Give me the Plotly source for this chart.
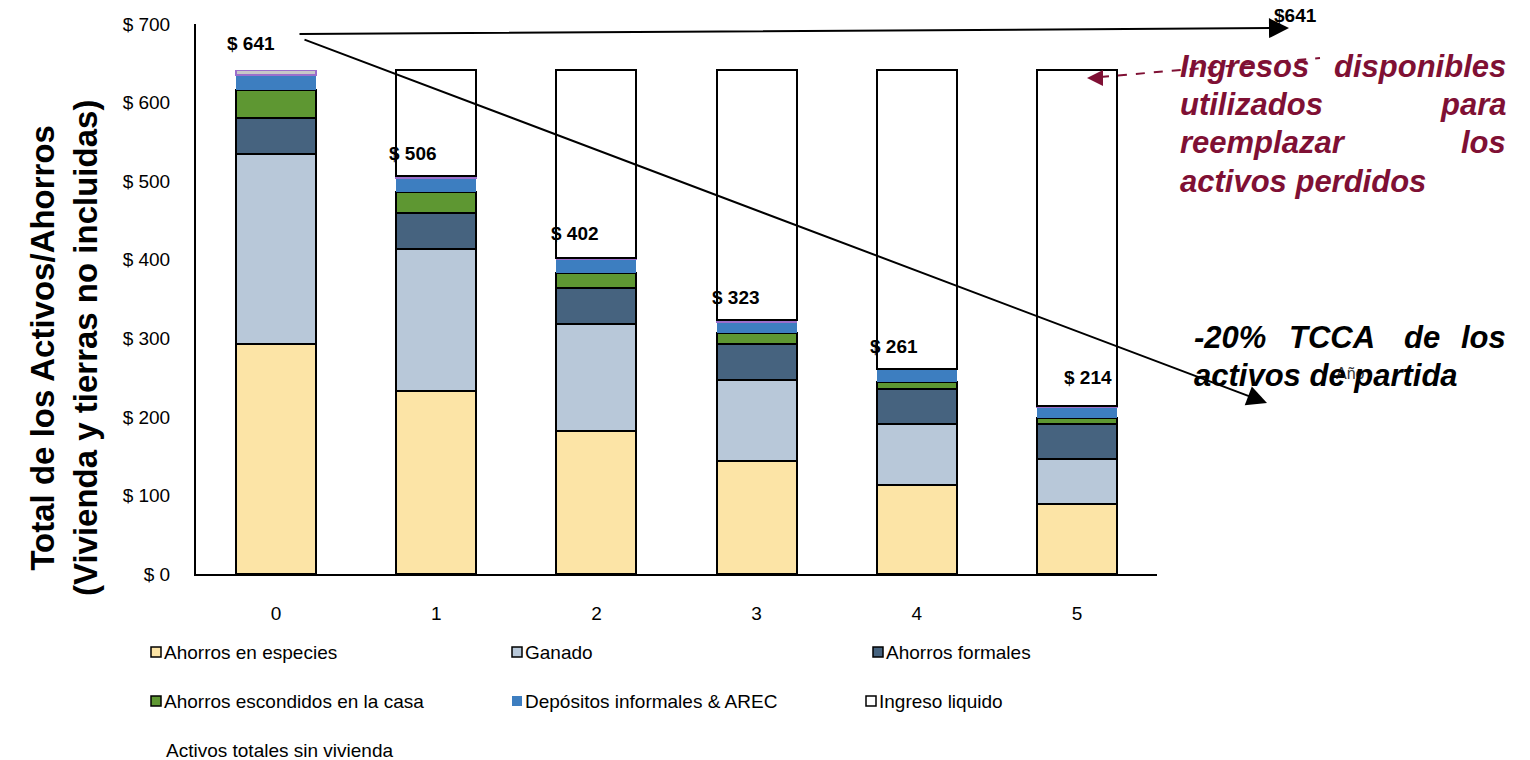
import plotly.graph_objects as go

# Year since start
years = [0, 1, 2, 3, 4, 5]

# Stacked asset components (USD)
ahorros_especies = [293, 233, 182, 144, 113, 89]
ganado = [241, 181, 136, 103, 78, 57]
ahorros_formales = [46, 45, 46, 46, 45, 45]
ahorros_escondidos = [36, 27, 19, 14, 9, 8]
depositos_informales = [19, 18, 18, 14, 15, 13]
otros_activos = [6, 2, 1, 2, 1, 2]
ingreso_liquido = [None, 135, 239, 318, 380, 427]

# Total assets excluding housing
activos_totales = [641, 506, 402, 323, 261, 214]

y_ticks = [0, 100, 200, 300, 400, 500, 600, 700]

FONT = "Arial, Liberation Sans, sans-serif"
RED = "#7F1034"

# plot area in page pixels
L, R, T, B = 196, 1157, 24, 574


def px(X):
    return (X - L) / (R - L)


def py(Y):
    return (B - Y) / (B - T)


series = [
    ("Ahorros en especies", ahorros_especies, "#FCE4A6", "black", 2),
    ("Ganado", ganado, "#B8C8D9", "black", 2),
    ("Ahorros formales", ahorros_formales, "#46637F", "black", 2),
    ("Ahorros escondidos en la casa", ahorros_escondidos, "#5E9732", "black", 2),
    ("Depósitos informales & AREC", depositos_informales, "#3D7EC0", "#3D7EC0", 0),
    ("Otros", otros_activos, "#C8C8C8", "#9B6FCB", 1.5),
    ("Ingreso liquido", ingreso_liquido, "#FFFFFF", "black", 2),
]

fig = go.Figure()
for name, vals, color, lcolor, lw in series:
    fig.add_trace(go.Bar(
        x=years, y=vals, name=name, width=0.5,
        marker=dict(color=color, line=dict(color=lcolor, width=lw)),
        showlegend=False,
    ))

annotations = []
shapes = []

# total labels above each bar
label_offsets = [(-25, 27), (-23, 23), (-21, 25), (-21, 23), (-23, 22), (11, 28)]
for yr, tot, (dx, dy) in zip(years, activos_totales, label_offsets):
    annotations.append(dict(
        x=yr, y=tot, xref="x", yref="y", text=f"$ {tot}", showarrow=False,
        xshift=dx, yshift=dy, font=dict(family=FONT, size=19, color="black", weight="bold"),
    ))

# y-axis title
annotations.append(dict(
    x=px(64), y=py(348), xref="paper", yref="paper", textangle=-90,
    text="Total de los Activos/Ahorros<br>(Vivienda y tierras no incluidas)",
    showarrow=False, xanchor="center", yanchor="middle",
    font=dict(family=FONT, size=33, color="black", weight="bold"),
))

# reference arrows from the starting total
annotations.append(dict(
    x=px(1289), y=py(28), xref="paper", yref="paper", ax=-991, ay=6,
    showarrow=True, arrowhead=2, arrowsize=2, arrowwidth=2, arrowcolor="black",
    text="", standoff=0,
))
annotations.append(dict(
    x=px(1267), y=py(403), xref="paper", yref="paper", ax=-964, ay=-364,
    showarrow=True, arrowhead=2, arrowsize=2, arrowwidth=2, arrowcolor="black",
    text="", standoff=0,
))
annotations.append(dict(
    x=px(1295), y=py(16), xref="paper", yref="paper", text=f"${activos_totales[0]}",
    showarrow=False, xanchor="center", yanchor="middle",
    font=dict(family=FONT, size=19, color="black", weight="bold"),
))

# x-axis title
annotations.append(dict(
    x=px(1350), y=py(373), xref="paper", yref="paper", text="Año",
    showarrow=False, xanchor="center", yanchor="middle",
    font=dict(family=FONT, size=16, color="#333333"),
))

# dashed pointer to the liquid income block
shapes.append(dict(
    type="line", xref="paper", yref="paper",
    x0=px(1100), y0=py(77), x1=px(1320), y1=py(58),
    line=dict(color=RED, width=2, dash="dash"),
))
annotations.append(dict(
    x=px(1087), y=py(78), xref="paper", yref="paper", ax=16, ay=0,
    showarrow=True, arrowhead=2, arrowsize=1.6, arrowwidth=2, arrowcolor=RED,
    text="", standoff=0,
))

red_font = dict(family=FONT, size=31, color=RED, weight="bold", style="italic")
red_words = [
    ("Ingresos", 1178, 67, "left"), ("disponibles", 1508, 67, "right"),
    ("utilizados", 1178, 104, "left"), ("para", 1508, 104, "right"),
    ("reemplazar", 1178, 143, "left"), ("los", 1508, 143, "right"),
    ("activos perdidos", 1178, 182, "left"),
]
for txt, X, Y, anc in red_words:
    annotations.append(dict(
        x=px(X), y=py(Y), xref="paper", yref="paper", text=txt, showarrow=False,
        xanchor=anc, yanchor="middle", font=red_font,
    ))

black_font = dict(family=FONT, size=31, color="black", weight="bold", style="italic")
black_words = [
    ("-20%", 1192, 337, "left"), ("TCCA", 1287, 337, "left"),
    ("de", 1402, 337, "left"), ("los", 1508, 337, "right"),
    ("activos de partida", 1192, 375, "left"),
]
for txt, X, Y, anc in black_words:
    annotations.append(dict(
        x=px(X), y=py(Y), xref="paper", yref="paper", text=txt, showarrow=False,
        xanchor=anc, yanchor="middle", font=black_font,
    ))

# legend
legend_items = [
    ("Ahorros en especies", 0, 151, 652),
    ("Ganado", 1, 512, 652),
    ("Ahorros formales", 2, 873, 652),
    ("Ahorros escondidos en la casa", 3, 151, 701),
    ("Depósitos informales & AREC", 4, 512, 701),
    ("Ingreso liquido", 6, 866, 701),
]
for label, idx, X, Y in legend_items:
    _, _, color, lcolor, lw = series[idx]
    shapes.append(dict(
        type="rect", xref="paper", yref="paper",
        x0=px(X), x1=px(X + 10), y0=py(Y + 5), y1=py(Y - 5),
        fillcolor=color, line=dict(color=lcolor if lw else color, width=1.5 if lw else 0),
    ))
    annotations.append(dict(
        x=px(X + 11), y=py(Y), xref="paper", yref="paper", text=label, showarrow=False,
        xanchor="left", yanchor="middle", font=dict(family=FONT, size=19, color="black"),
    ))
annotations.append(dict(
    x=px(164), y=py(750), xref="paper", yref="paper", text="Activos totales sin vivienda",
    showarrow=False, xanchor="left", yanchor="middle",
    font=dict(family=FONT, size=19, color="black"),
))

fig.update_layout(
    width=1530, height=760,
    margin=dict(l=L, r=1530 - R, t=T, b=760 - B),
    barmode="stack",
    plot_bgcolor="white", paper_bgcolor="white",
    font=dict(family=FONT, size=19, color="black"),
    annotations=annotations, shapes=shapes,
    xaxis=dict(
        range=[-0.5, 5.5], tickvals=years, ticktext=[str(y) for y in years],
        showline=True, linecolor="black", linewidth=2, showgrid=False,
        ticks="", ticklabelstandoff=21, tickfont=dict(size=19),
    ),
    yaxis=dict(
        range=[0, 700], tickvals=y_ticks, ticktext=[f"$ {v}" for v in y_ticks],
        showline=True, linecolor="black", linewidth=2, showgrid=False, zeroline=False,
        ticks="", ticklabelstandoff=20, tickfont=dict(size=19),
    ),
)

fig.write_html("out.html")
